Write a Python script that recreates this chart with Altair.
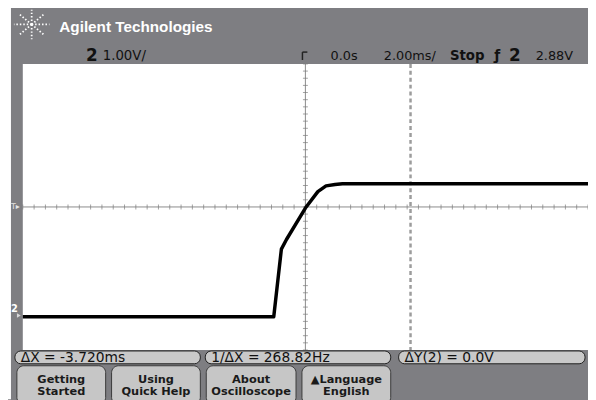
import altair as alt
import pandas as pd

# Channel 2 trace: time (ms, 2 ms/div) and voltage (V, 1 V/div)
time_ms = [-10.0, -1.12, -0.85, -0.67, 0.0, 0.44, 0.73, 1.05, 1.31, 10.0]
volts = [-0.04, -0.04, 1.85, 2.12, 3.00, 3.46, 3.62, 3.66, 3.68, 3.68]

cursor_x1_ms = [3.72]

title_text = "Agilent Technologies"
header_labels = ["2", "1.00V/", "0.0s", "2.00ms/", "Stop", "ƒ", "2", "2.88V"]
readout_labels = ["ΔX = -3.720ms", "1/ΔX = 268.82Hz", "ΔY(2) = 0.0V"]
button_labels = [["Getting", "Started"], ["Using", "Quick Help"],
                 ["About", "Oscilloscope"], ["▲Language", "English"]]

# ---------------- layout / styles ----------------
W, H = 573, 290
T_MIN, T_MAX = -10, 10
V_MIN, V_MAX = -0.97, 7.03
GRAY = "#7e7e82"
GRID = "#d3d3d3"
FONT = "DejaVu Sans"

one = pd.DataFrame({"k": [0]})


def label(text, x, y, size=12, weight="normal", color="#111111",
          align="left", font=FONT):
    return alt.Chart(pd.DataFrame({"label": [text]})).mark_text(
        align=align, baseline="middle", fontSize=size, fontWeight=weight,
        color=color, font=font
    ).encode(x=alt.value(x), y=alt.value(y), text="label:N")


def box(x, x2, y, y2, fill, stroke=None, radius=0, sw=1):
    kw = dict(fill=fill, cornerRadius=radius)
    if stroke:
        kw.update(stroke=stroke, strokeWidth=sw)
    return alt.Chart(one).mark_rect(**kw).encode(
        x=alt.value(x), x2=alt.value(x2), y=alt.value(y), y2=alt.value(y2))


def seg(x, y, x2, y2, color, width=1, dash=None):
    kw = dict(color=color, strokeWidth=width)
    if dash:
        kw["strokeDash"] = dash
    return alt.Chart(one).mark_rule(**kw).encode(
        x=alt.value(x), y=alt.value(y), x2=alt.value(x2), y2=alt.value(y2))


x_scale = alt.Scale(domain=[T_MIN, T_MAX], nice=False, zero=False)
y_scale = alt.Scale(domain=[V_MIN, V_MAX], nice=False, zero=False)

x_axis = alt.Axis(values=list(range(-10, 11, 2)), grid=True, labels=False,
                  ticks=False, domain=False, title=None, gridColor=GRID,
                  gridWidth=1.5)
y_axis = alt.Axis(values=[round(V_MIN + k, 2) for k in range(9)], grid=True,
                  labels=False, ticks=False, domain=False, title=None,
                  gridColor=GRID, gridWidth=1.5)

layers = []

# white strip at far left of the photo
layers.append(box(-15, -12, -60, 340, "white"))

# centre axes with minor ticks
layers.append(seg(0, H / 2, W, H / 2, "#8a8a8a", 1))
layers.append(seg(W / 2, 0, W / 2, H, "#8a8a8a", 1))
layers.append(
    alt.Chart(alt.sequence(T_MIN, T_MAX + 0.01, 0.4, as_="t"))
    .mark_tick(color="#7a7a7a", size=5, thickness=1)
    .encode(x=alt.X("t:Q", scale=x_scale, axis=None), y=alt.value(H / 2))
)
layers.append(
    alt.Chart(alt.sequence(V_MIN, V_MAX + 0.01, 0.2, as_="v"))
    .mark_tick(color="#7a7a7a", size=5, thickness=1)
    .encode(y=alt.Y("v:Q", scale=y_scale, axis=None), x=alt.value(W / 2))
)

# cursor X1
layers.append(
    alt.Chart(pd.DataFrame({"t": cursor_x1_ms}))
    .mark_rule(color="#9c9c9c", strokeWidth=2.5, strokeDash=[4, 3])
    .encode(x=alt.X("t:Q", scale=x_scale, axis=None))
)

# trace
layers.append(
    alt.Chart(pd.DataFrame({"t": time_ms, "v": volts}))
    .mark_line(color="black", strokeWidth=3.5, strokeJoin="round")
    .encode(x=alt.X("t:Q", scale=x_scale, axis=x_axis),
            y=alt.Y("v:Q", scale=y_scale, axis=y_axis))
)

# ---------------- header ----------------
cx, cy = 9, -40
for dx, dy in [(18, 0), (-18, 0), (0, 15), (0, -15),
               (12, 10), (-12, 10), (12, -10), (-12, -10)]:
    layers.append(seg(cx, cy, cx + dx, cy + dy, "white", 1.8, [1.5, 2]))
layers.append(label(title_text, 37, -37, size=15.5, weight="bold",
                    color="white", font="Liberation Sans"))

header_pos = [(64, -8, 17, "bold"), (81, -8, 13.5, "normal"),
              (312, -8, 13, "normal"), (366, -8, 13, "normal"),
              (433, -8, 13.5, "bold"), (478, -8, 14, "bold"),
              (493, -8, 17, "bold"), (520, -8, 13, "normal")]
for txt, (px, py, sz, wt) in zip(header_labels, header_pos):
    layers.append(label(txt, px, py, size=sz, weight=wt))
# trigger position marker
layers.append(seg(W / 2 - 3, -12, W / 2 + 2, -12, "#222222", 1.5))
layers.append(seg(W / 2 - 3, -12, W / 2 - 3, -4, "#222222", 1.5))

# left-side markers
layers.append(label("T▸", -12, 145, size=8, color="#e6e6e6"))
layers.append(label("2", -12, 248, size=10, weight="bold", color="white"))
layers.append(
    alt.Chart(one).mark_point(shape="triangle-right", filled=True,
                              color="white", size=20)
    .encode(x=alt.value(-4), y=alt.value(255))
)

# ---------------- footer ----------------
readout_boxes = [(-8, 180), (185, 373), (381, 570)]
for txt, (bx, bx2) in zip(readout_labels, readout_boxes):
    layers.append(box(bx, bx2, 291, 304, "#c9c9c9", "#1e1e1e", 6))
    layers.append(label(txt, bx + 6, 298, size=14))

button_boxes = [(-6, 84), (90, 180), (186, 277), (283, 373)]
for (l1, l2), (bx, bx2) in zip(button_labels, button_boxes):
    layers.append(box(bx, bx2, 306, 345, "#c6c6c6", "#3a3a3a", 7))
    mid = (bx + bx2) / 2
    layers.append(label(l1, mid, 320, size=11.5, weight="bold",
                        color="#1a1a1a", align="center"))
    layers.append(label(l2, mid, 333, size=11.5, weight="bold",
                        color="#1a1a1a", align="center"))

chart = alt.layer(*layers).properties(
    width=W, height=H,
    autosize=alt.AutoSizeParams(type="none"),
    padding={"left": 15, "top": 54, "right": 0, "bottom": 48},
    background=GRAY,
).configure_view(fill="white", stroke=None)

chart.save("out.html", embed_options={"renderer": "svg", "actions": False})
